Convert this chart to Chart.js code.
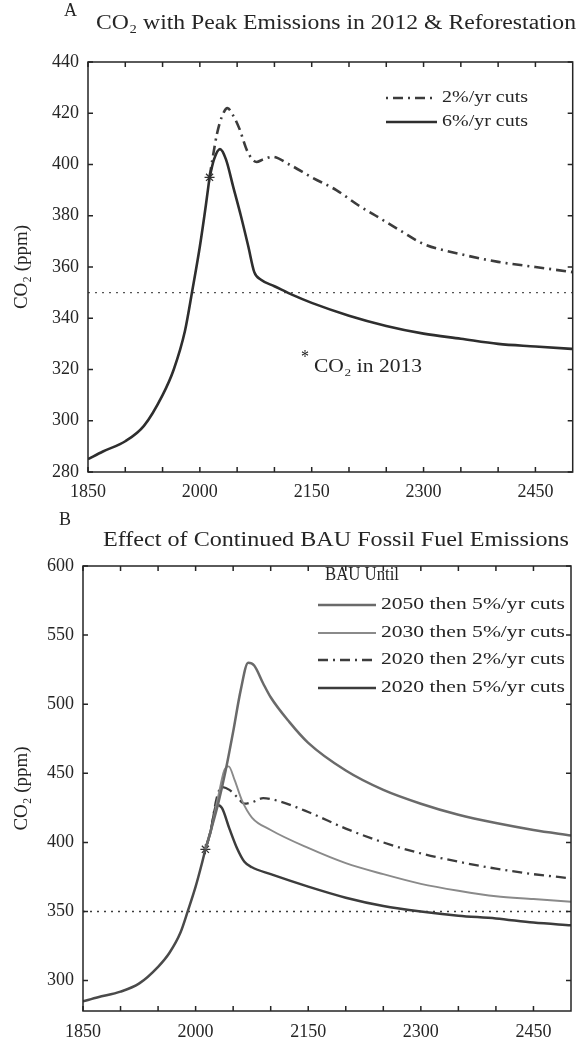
<!DOCTYPE html>
<html>
<head>
<meta charset="utf-8">
<script src="https://cdn.jsdelivr.net/npm/chart.js@4.4.1/dist/chart.umd.min.js"></script>
<style>
  html, body { margin: 0; padding: 0; background: #fff; }
  #wrapA { position: absolute; left: 0; top: 0; width: 579px; height: 510px; }
  #wrapB { position: absolute; left: 0; top: 510px; width: 579px; height: 533px; }
</style>
</head>
<body>
<div id="wrapA"><canvas id="chartA" width="579" height="510"></canvas></div>
<div id="wrapB"><canvas id="chartB" width="579" height="533"></canvas></div>
<script>
// observed record up to 2013 (shared by every scenario)
const histYears = [1850, 1870, 1900, 1925, 1950, 1965, 1980, 1990, 2000, 2008, 2013];
const histCO2   = [285, 288, 292, 298, 310, 320, 335, 351, 368, 384, 395];

// panel A: peak emissions in 2012 + reforestation
const cut6Years = [2019, 2027, 2035, 2045, 2055, 2065, 2073, 2082, 2100, 2125, 2150, 2200, 2250, 2300, 2350, 2400, 2450, 2500];
const cut6CO2   = [402, 406, 402, 391, 380, 368, 358, 355, 352.5, 349, 346, 341, 337, 334, 332, 330, 329, 328];
const cut2Years = [2018, 2023, 2030, 2037, 2045, 2053, 2064, 2076, 2085, 2097, 2120, 2150, 2183, 2213, 2236, 2270, 2300, 2350, 2400, 2450, 2500];
const cut2CO2   = [404, 412, 419, 422, 419, 414, 405, 401, 402, 403, 400, 395, 390, 384, 380, 374, 369, 365, 362, 360, 358];

// panel B: BAU until a given year, then cuts
const bau2050Years = [2020, 2030, 2040, 2050, 2060, 2070, 2078, 2090, 2100, 2125, 2150, 2200, 2250, 2300, 2350, 2400, 2450, 2500];
const bau2050CO2   = [408, 428, 452, 480, 510, 530, 528, 515, 505, 487, 472, 452, 438, 428, 420, 414, 409, 405];
const bau2030Years = [2020, 2030, 2038, 2044, 2052, 2062, 2075, 2100, 2150, 2200, 2250, 2300, 2350, 2400, 2450, 2500];
const bau2030CO2   = [408, 433, 452, 455, 445, 430, 418, 409, 396, 385, 377, 370, 365, 361, 359, 357];
const bau2020c2Years = [2020, 2028, 2035, 2045, 2055, 2065, 2075, 2090, 2110, 2150, 2200, 2250, 2300, 2350, 2400, 2450, 2500];
const bau2020c2CO2   = [408, 432, 440, 438, 433, 428, 429, 432, 430, 422, 410, 400, 392, 386, 381, 377, 374];
const bau2020c5Years = [2020, 2028, 2035, 2045, 2055, 2065, 2075, 2100, 2150, 2200, 2250, 2300, 2350, 2400, 2450, 2500];
const bau2020c5CO2   = [408, 427, 425, 410, 396, 386, 382, 377, 368, 360, 354, 350, 347, 345, 342, 340];

const refYears = [1850, 2500];
const refCO2 = [350, 350];
const obsYear = [2013];
const obsCO2 = [395];

const xTickYears = [1850, 1900, 1950, 2000, 2050, 2100, 2150, 2200, 2250, 2300, 2350, 2400, 2450];
const xLabelYears = [1850, 2000, 2150, 2300, 2450];
const yTicksA = [280, 300, 320, 340, 360, 380, 400, 420, 440];
const yTicksB = [300, 350, 400, 450, 500, 550, 600];

const FONT = "'Liberation Serif', 'DejaVu Serif', serif";
const INK = "#252525";

function pts(xs, ys) { return xs.map((x, i) => ({ x: x, y: ys[i] })); }

function lineSet(xs, ys, color, width, dash) {
  return {
    data: pts(xs, ys), borderColor: color, borderWidth: width, borderDash: dash || [],
    pointRadius: 0, fill: false, cubicInterpolationMode: 'monotone'
  };
}

// text squeezed/stretched to the width it has in the scan
function fitText(ctx, text, x, y, width, align) {
  const w = ctx.measureText(text).width;
  ctx.save();
  ctx.translate(x, y);
  ctx.scale(width / w, 1);
  ctx.textAlign = align;
  ctx.fillText(text, 0, 0);
  ctx.restore();
}

// frame, inward ticks, titles, legend and notes
function decor(opt) {
  return {
    id: 'decor',
    afterDraw(chart) {
      const ctx = chart.ctx, a = chart.chartArea, sx = chart.scales.x, sy = chart.scales.y;
      ctx.save();
      ctx.strokeStyle = INK; ctx.lineWidth = 1.5; ctx.setLineDash([]);
      ctx.strokeRect(a.left, a.top, a.right - a.left, a.bottom - a.top);
      ctx.beginPath();
      xTickYears.forEach(v => {
        const p = sx.getPixelForValue(v);
        ctx.moveTo(p, a.bottom); ctx.lineTo(p, a.bottom - 5);
        ctx.moveTo(p, a.top); ctx.lineTo(p, a.top + 5);
      });
      opt.yTicks.forEach(v => {
        const p = sy.getPixelForValue(v);
        ctx.moveTo(a.left, p); ctx.lineTo(a.left + 5, p);
        ctx.moveTo(a.right, p); ctx.lineTo(a.right - 5, p);
      });
      ctx.stroke();

      ctx.fillStyle = INK; ctx.textBaseline = 'middle';
      ctx.font = "18px " + FONT; ctx.textAlign = 'left';
      ctx.fillText(opt.letter[0], opt.letter[1], opt.letter[2]);
      ctx.font = "20px " + FONT;
      fitText(ctx, opt.title[0], opt.title[1], opt.title[2], opt.title[3], 'center');

      ctx.font = "17px " + FONT; ctx.textAlign = 'left';
      if (opt.legendHead) {
        ctx.font = "18px " + FONT;
        fitText(ctx, opt.legendHead[0], opt.legendHead[1], opt.legendHead[2], opt.legendHead[3], 'left');
        ctx.font = "17px " + FONT;
      }
      opt.legend.forEach(it => {
        ctx.strokeStyle = it.color; ctx.lineWidth = it.width; ctx.setLineDash(it.dash || []);
        ctx.beginPath(); ctx.moveTo(it.x0, it.y); ctx.lineTo(it.x1, it.y); ctx.stroke();
        fitText(ctx, it.label, it.x1 + 5, it.y, it.tw, 'left');
      });
      ctx.setLineDash([]);
      (opt.notes || []).forEach(n => {
        ctx.font = n[3] + "px " + FONT;
        fitText(ctx, n[0], n[1], n[2], n[4], 'left');
      });
      ctx.restore();
    }
  };
}

function axes(yMin, yMax, yTicks, yWidth, xHeight, xPad) {
  return {
    x: {
      type: 'linear', min: 1850, max: 2500,
      afterBuildTicks: s => { s.ticks = xLabelYears.map(v => ({ value: v })); },
      afterFit: s => { s.height = xHeight; },
      grid: { display: false, drawTicks: false },
      border: { display: false },
      ticks: { color: INK, font: { family: FONT, size: 18 }, padding: xPad, maxRotation: 0, autoSkip: false,
               callback: v => String(v) }
    },
    y: {
      type: 'linear', min: yMin, max: yMax,
      afterBuildTicks: s => { s.ticks = yTicks.map(v => ({ value: v })); },
      afterFit: s => { s.width = yWidth; },
      grid: { display: false, drawTicks: false },
      border: { display: false },
      ticks: { color: INK, font: { family: FONT, size: 18 }, padding: 9, callback: v => String(v) },
      title: { display: true, text: 'CO₂ (ppm)', color: INK, font: { family: FONT, size: 19 }, padding: { top: 11, bottom: 0 } }
    }
  };
}

const baseOpts = {
  responsive: false, animation: false, events: [],
  plugins: { legend: { display: false }, title: { display: false }, tooltip: { enabled: false } }
};

new Chart(document.getElementById('chartA'), {
  type: 'line',
  data: {
    datasets: [
      lineSet(histYears, histCO2, '#2e2e2e', 2.6),
      lineSet([2013].concat(cut6Years), [395].concat(cut6CO2), '#2e2e2e', 2.6),
      lineSet([2013].concat(cut2Years), [395].concat(cut2CO2), '#3c3c3c', 2.6, [10, 5, 2, 5]),
      lineSet(refYears, refCO2, '#555', 1.4, [2, 5]),
      { data: pts(obsYear, obsCO2), showLine: false, pointStyle: 'star', pointRadius: 5, borderColor: '#333', borderWidth: 1.3 }
    ]
  },
  options: Object.assign({}, baseOpts, {
    layout: { padding: { top: 62, right: 6, left: 0, bottom: 0 } },
    scales: axes(280, 440, yTicksA, 88, 38, 9)
  }),
  plugins: [decor({
    yTicks: yTicksA,
    letter: ['A', 64, 11],
    title: ['CO₂ with Peak Emissions in 2012 & Reforestation', 336, 24, 480],
    legend: [
      { label: '2%/yr cuts', x0: 386, x1: 437, y: 98, tw: 86, color: '#3c3c3c', width: 2.4, dash: [2, 5, 10, 5] },
      { label: '6%/yr cuts', x0: 386, x1: 437, y: 122, tw: 86, color: '#2e2e2e', width: 2.4 }
    ],
    notes: [['*', 301, 358, 18, 8], ['CO₂ in 2013', 314, 367, 18, 108]]
  })]
});

new Chart(document.getElementById('chartB'), {
  type: 'line',
  data: {
    datasets: [
      lineSet(histYears, histCO2, '#4a4a4a', 2.5),
      lineSet([2013].concat(bau2050Years), [395].concat(bau2050CO2), '#6a6a6a', 2.5),
      lineSet([2013].concat(bau2030Years), [395].concat(bau2030CO2), '#8a8a8a', 1.9),
      lineSet([2013].concat(bau2020c2Years), [395].concat(bau2020c2CO2), '#3c3c3c', 2.3, [10, 5, 2, 5]),
      lineSet([2013].concat(bau2020c5Years), [395].concat(bau2020c5CO2), '#3c3c3c', 2.5),
      lineSet(refYears, refCO2, '#3c3c3c', 1.7, [2, 5]),
      { data: pts(obsYear, obsCO2), showLine: false, pointStyle: 'star', pointRadius: 5, borderColor: '#333', borderWidth: 1.3 }
    ]
  },
  options: Object.assign({}, baseOpts, {
    layout: { padding: { top: 56, right: 8, left: 0, bottom: 0 } },
    scales: axes(278, 600, yTicksB, 83, 32, 10)
  }),
  plugins: [decor({
    yTicks: yTicksB,
    letter: ['B', 59, 10],
    title: ['Effect of Continued BAU Fossil Fuel Emissions', 336, 31, 466],
    legendHead: ['BAU Until', 325, 65, 74],
    legend: [
      { label: '2050 then 5%/yr cuts', x0: 318, x1: 376, y: 95, tw: 184, color: '#6a6a6a', width: 2.5 },
      { label: '2030 then 5%/yr cuts', x0: 318, x1: 376, y: 123, tw: 184, color: '#8a8a8a', width: 1.9 },
      { label: '2020 then 2%/yr cuts', x0: 318, x1: 376, y: 150, tw: 184, color: '#3c3c3c', width: 2.3, dash: [10, 5, 2, 5] },
      { label: '2020 then 5%/yr cuts', x0: 318, x1: 376, y: 178, tw: 184, color: '#3c3c3c', width: 2.5 }
    ]
  })]
});
</script>
</body>
</html>
